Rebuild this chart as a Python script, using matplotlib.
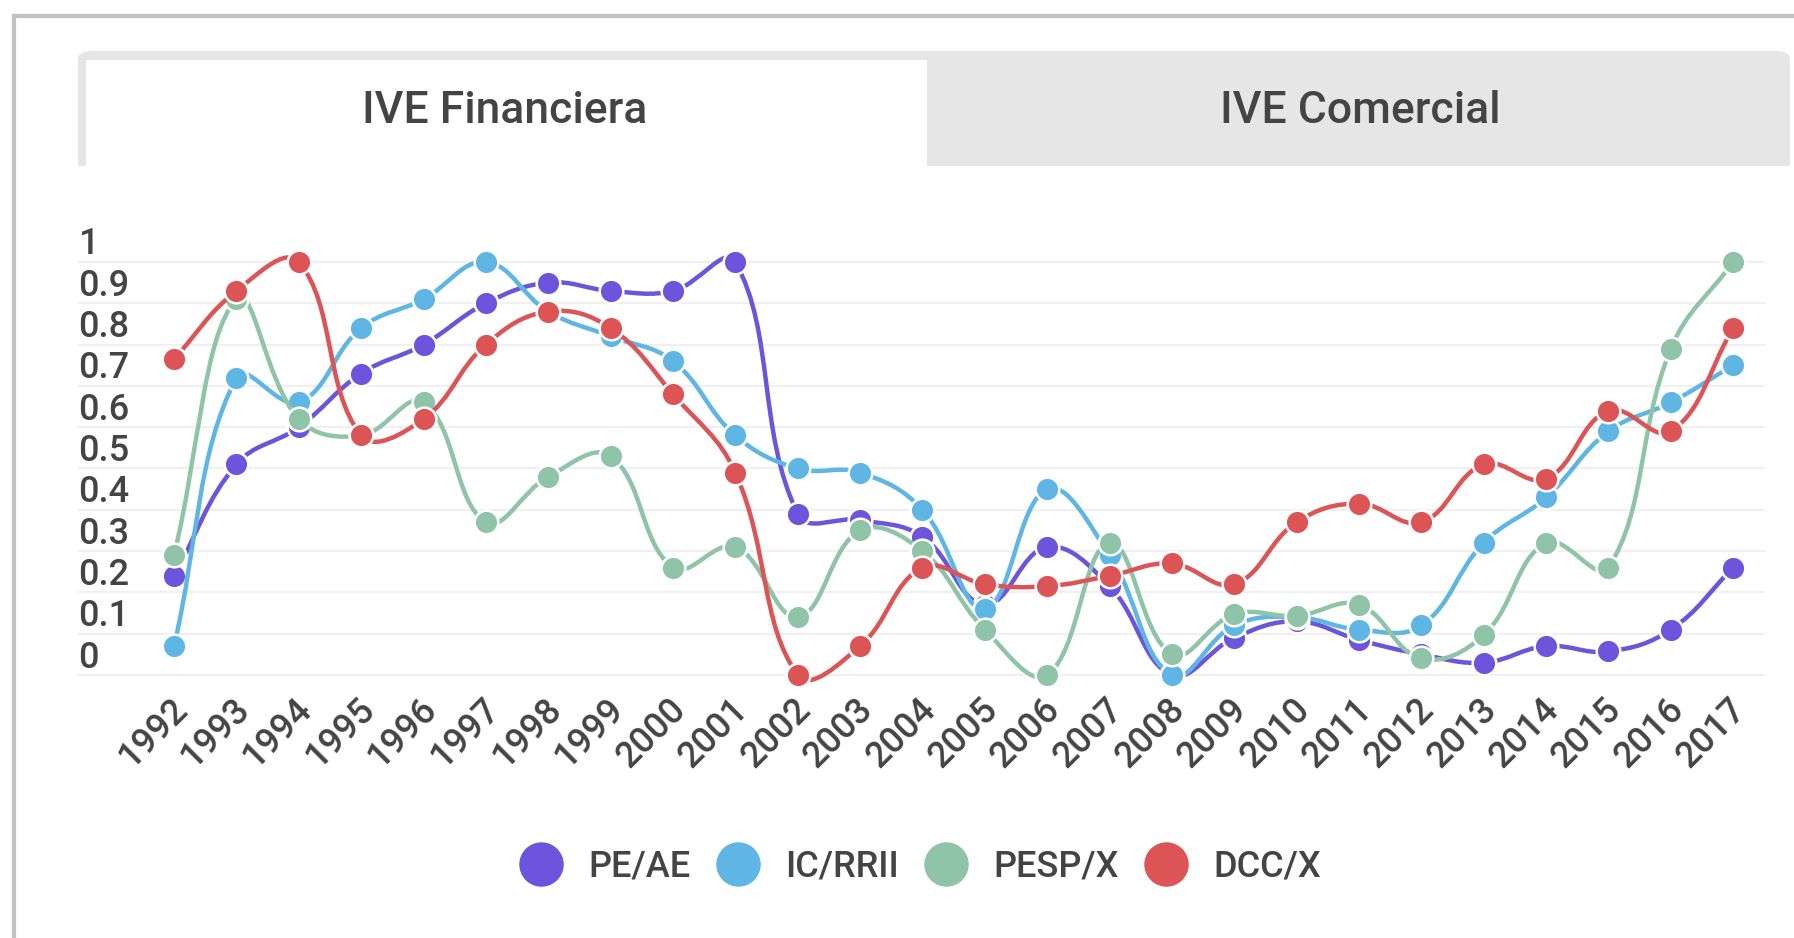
import numpy as np
import matplotlib
matplotlib.use('Agg')
import matplotlib.pyplot as plt
from matplotlib.path import Path
from matplotlib.patches import PathPatch, FancyBboxPatch, Rectangle
from matplotlib.lines import Line2D
from matplotlib.transforms import ScaledTranslation

plt.rcParams['font.family'] = ['Roboto', 'DejaVu Sans']
plt.rcParams['font.weight'] = 'medium'

years = list(range(1992, 2018))
pe_ae = [0.24, 0.51, 0.60, 0.73, 0.80, 0.90, 0.95, 0.93, 0.93, 1.00,
         0.39, 0.375, 0.335, 0.17, 0.31, 0.215, 0.00, 0.09, 0.13, 0.085,
         0.05, 0.03, 0.07, 0.057, 0.11, 0.26]
ic_rrii = [0.07, 0.72, 0.66, 0.84, 0.91, 1.00, 0.88, 0.82, 0.76, 0.58,
           0.50, 0.49, 0.40, 0.16, 0.45, 0.29, 0.00, 0.12, 0.14, 0.11,
           0.12, 0.32, 0.43, 0.59, 0.66, 0.75]
pesp_x = [0.29, 0.91, 0.62, 0.58, 0.66, 0.37, 0.48, 0.53, 0.26, 0.31,
          0.14, 0.35, 0.30, 0.11, 0.00, 0.32, 0.05, 0.147, 0.143, 0.17,
          0.04, 0.097, 0.32, 0.26, 0.79, 1.00]
dcc_x = [0.765, 0.93, 1.00, 0.58, 0.62, 0.80, 0.88, 0.84, 0.68, 0.49,
         0.00, 0.07, 0.26, 0.22, 0.215, 0.24, 0.27, 0.22, 0.37, 0.415,
         0.37, 0.51, 0.475, 0.64, 0.59, 0.84]

series = [("PE/AE", pe_ae, "#6c54dc"),
          ("IC/RRII", ic_rrii, "#5fb6e5"),
          ("PESP/X", pesp_x, "#8fc4a8"),
          ("DCC/X", dcc_x, "#dc5456")]
y_ticks = [0, 0.1, 0.2, 0.3, 0.4, 0.5, 0.6, 0.7, 0.8, 0.9, 1]
y_labels = ["0", "0.1", "0.2", "0.3", "0.4", "0.5", "0.6", "0.7", "0.8", "0.9", "1"]
tabs = ["IVE Financiera", "IVE Comercial"]

W, H = 1794, 938
fig = plt.figure(figsize=(W / 100, H / 100), dpi=100)


def fx(px):
    return px / W


def fy(py):
    return 1 - py / H


# outer frame
fig.add_artist(Line2D([fx(14), 1], [fy(16), fy(16)], color="#c2c2c2", lw=3))
fig.add_artist(Line2D([fx(14), fx(14)], [fy(16), 0], color="#c2c2c2", lw=3))

# tab bar
fig.add_artist(FancyBboxPatch((fx(78), fy(166)), fx(1790) - fx(78), fy(51) - fy(166),
                              boxstyle="round,pad=0,rounding_size=0.008",
                              fc="#e6e6e6", ec="none", transform=fig.transFigure))
fig.add_artist(Rectangle((fx(78), fy(166)), fx(1790) - fx(78), 0.02,
                         fc="#e6e6e6", ec="none", transform=fig.transFigure))
fig.add_artist(Rectangle((fx(86), fy(166)), fx(927) - fx(86), fy(60) - fy(166),
                         fc="white", ec="none", transform=fig.transFigure))
fig.text(fx(505), fy(111), tabs[0], ha="center", va="center", fontsize=32, color="#444444")
fig.text(fx(1360), fy(111), tabs[1], ha="center", va="center", fontsize=32, color="#444444")

# plot area
ylo, yhi = -0.06, 1.06
px_per_unit = 413
bot_px = 675 - ylo * px_per_unit
top_px = 262 - (yhi - 1) * px_per_unit
ax = fig.add_axes([fx(78), fy(bot_px), fx(1765) - fx(78), (bot_px - top_px) / H])
ax.set_xlim(1990.46, 2017.51)
ax.set_ylim(ylo, yhi)
for s in ax.spines.values():
    s.set_visible(False)
ax.set_yticks(y_ticks)
ax.set_yticklabels(y_labels)
ax.yaxis.grid(True, color="#f0f0f0", lw=1.6)
ax.set_axisbelow(True)
ax.tick_params(axis="y", length=0, pad=0, labelsize=26, labelcolor="#444444")
for lab in ax.get_yticklabels():
    lab.set_ha("left")
    lab.set_transform(lab.get_transform() + ScaledTranslation(0, 0.21, fig.dpi_scale_trans))

ax.set_xticks(years)
ax.set_xticklabels([str(y) for y in years], rotation=45, ha="right", va="center",
                   rotation_mode="anchor")
ax.tick_params(axis="x", length=0, pad=3, labelsize=26, labelcolor="#444444")
for lab in ax.get_xticklabels():
    lab.set_transform(lab.get_transform() + ScaledTranslation(0.08, 0, fig.dpi_scale_trans))


def smooth_path(xs, ys, tension=0.4):
    pts = ax.transData.transform(np.column_stack([xs, ys]))
    n = len(pts)
    verts = [pts[0]]
    codes = [Path.MOVETO]
    cps = []
    for i in range(n):
        prev = pts[max(i - 1, 0)]
        cur = pts[i]
        nxt = pts[min(i + 1, n - 1)]
        d01 = np.hypot(*(cur - prev))
        d12 = np.hypot(*(nxt - cur))
        tot = d01 + d12
        s01 = d01 / tot if tot else 0
        s12 = d12 / tot if tot else 0
        cps.append((cur - tension * s01 * (nxt - prev), cur + tension * s12 * (nxt - prev)))
    for i in range(n - 1):
        verts += [cps[i][1], cps[i + 1][0], pts[i + 1]]
        codes += [Path.CURVE4] * 3
    verts = ax.transData.inverted().transform(np.array(verts))
    return Path(verts, codes)


for k, (name, vals, col) in enumerate(series):
    ax.add_patch(PathPatch(smooth_path(years, vals), fc="none", ec=col, lw=3.2,
                           zorder=3 + 2 * k, capstyle="round"))
    ax.plot(years, vals, ls="none", marker="o", ms=17, mfc=col, mec="white", mew=1.8,
            zorder=4 + 2 * k, clip_on=False)

handles = [Line2D([], [], ls="none", marker="o", ms=32, mfc=c, mec="none") for _, _, c in series]
fig.legend(handles, [s[0] for s in series], loc="center", bbox_to_anchor=(0.513, fy(867)),
           ncol=4, frameon=False, fontsize=26, handlelength=1.2, handletextpad=0.72,
           columnspacing=0.7, labelcolor="#444444")

fig.savefig("out.png", dpi=100, facecolor="white")
